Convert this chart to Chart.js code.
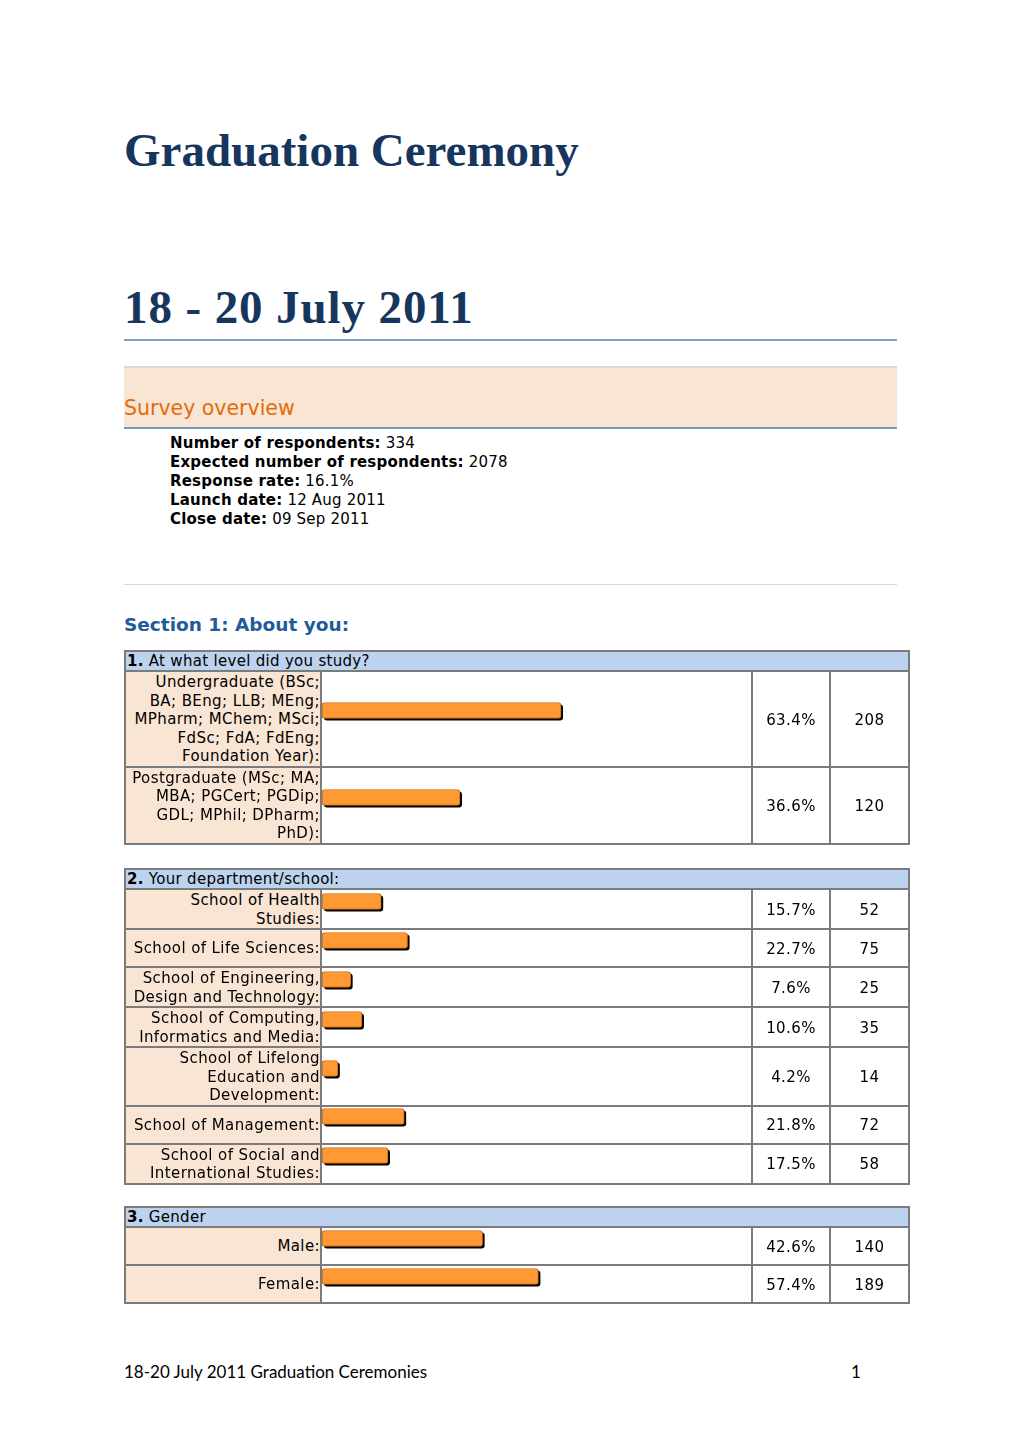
<!DOCTYPE html>
<html>
<head>
<meta charset="utf-8">
<script src="https://cdn.jsdelivr.net/npm/chart.js@4/dist/chart.umd.min.js"></script>
<style>
  body { margin: 0; background: #fff; width: 1020px; height: 1443px; position: relative; font-family: "DejaVu Sans", Verdana, sans-serif; color: #000; }
  .abs { position: absolute; }
  .title { font-family: "Liberation Serif", serif; font-weight: bold; font-size: 47px; line-height: 47px; color: #17365D; white-space: nowrap; }
  .rule { height: 2px; background: #7BA0D0; }
  .overview { left: 124px; top: 366px; width: 773px; height: 59px; background: #F9E5D4; border-top: 2px solid #D9D9D9; border-bottom: 2px solid #7098CD; }
  .overview span { position: absolute; left: 0; top: 28px; font-size: 20.5px; color: #E36C0A; }
  .facts { left: 170px; top: 434px; font-size: 15px; letter-spacing: 0.2px; line-height: 19px; }
  .section { font-weight: bold; font-size: 18.5px; color: #1F5C99; }
  table.q { position: absolute; left: 124px; width: 784px; border-collapse: collapse; table-layout: fixed; font-size: 15px; letter-spacing: 0.4px; }
  table.q td { border: 2px solid #7B7B7B; padding: 0; line-height: 18.5px; }
  table.q td.head { background: #BCD2EE; line-height: 17px; height: 17px; padding: 1px 0 0 1px; letter-spacing: 0.3px; }
  table.q td.lbl { background: #F9E5D4; text-align: right; white-space: pre-line; vertical-align: middle; height: 35px; padding-top: 1px; }
  table.q td.bar { vertical-align: middle; background: #fff; }
  table.q td.num { text-align: center; vertical-align: middle; padding-top: 2px; }
  .barbox { height: 35px; }
  .barbox canvas { display: block; }
  .footer { font-family: Lato, "Open Sans", sans-serif; font-size: 17px; }
</style>
</head>
<body>
<div class="abs title" style="left:124px; top:127px;">Graduation Ceremony</div>
<div class="abs title" style="left:124px; top:284px; letter-spacing: 0.9px;">18 - 20 July 2011</div>
<div class="abs rule" style="left:124px; top:339px; width:773px;"></div>

<div class="abs overview"><span>Survey overview</span></div>
<div class="abs facts">
  <b>Number of respondents:</b> 334<br>
  <b>Expected number of respondents:</b> 2078<br>
  <b>Response rate:</b> 16.1%<br>
  <b>Launch date:</b> 12 Aug 2011<br>
  <b>Close date:</b> 09 Sep 2011
</div>
<div class="abs" style="left:124px; top:584px; width:773px; height:1px; background:#D9D9D9;"></div>
<div class="abs section" style="left:124px; top:614px;">Section 1: About you:</div>

<div id="tables"></div>

<div class="abs footer" style="left:124px; top:1361px;">18-20 July 2011 Graduation Ceremonies</div>
<div class="abs footer" style="left:851px; top:1361px;">1</div>

<script>
// question 1
const q1Title = "At what level did you study?";
const q1Labels = [
  "Undergraduate (BSc;\nBA; BEng; LLB; MEng;\nMPharm; MChem; MSci;\nFdSc; FdA; FdEng;\nFoundation Year):",
  "Postgraduate (MSc; MA;\nMBA; PGCert; PGDip;\nGDL; MPhil; DPharm;\nPhD):"
];
const q1Percent = [63.4, 36.6];
const q1Count = [208, 120];

// question 2
const q2Title = "Your department/school:";
const q2Labels = [
  "School of Health\nStudies:",
  "School of Life Sciences:",
  "School of Engineering,\nDesign and Technology:",
  "School of Computing,\nInformatics and Media:",
  "School of Lifelong\nEducation and\nDevelopment:",
  "School of Management:",
  "School of Social and\nInternational Studies:"
];
const q2Percent = [15.7, 22.7, 7.6, 10.6, 4.2, 21.8, 17.5];
const q2Count = [52, 75, 25, 35, 14, 72, 58];

// question 3
const q3Title = "Gender";
const q3Labels = ["Male:", "Female:"];
const q3Percent = [42.6, 57.4];
const q3Count = [140, 189];

const questions = [
  { no: 1, title: q1Title, labels: q1Labels, pct: q1Percent, count: q1Count, top: 650 },
  { no: 2, title: q2Title, labels: q2Labels, pct: q2Percent, count: q2Count, top: 868 },
  { no: 3, title: q3Title, labels: q3Labels, pct: q3Percent, count: q3Count, top: 1206 }
];

// black drop shadow behind each bar (bar element clips itself, so draw it first)
const barShadow = {
  id: "barShadow",
  beforeDatasetsDraw(chart) {
    const ctx = chart.ctx;
    ctx.save();
    ctx.fillStyle = "#000";
    chart.getDatasetMeta(0).data.forEach(el => {
      const p = el.getProps(["x", "y", "base", "height"], true);
      const left = Math.min(p.base, p.x) + 2;
      const w = Math.abs(p.x - p.base);
      const top = p.y - p.height / 2 + 2;
      ctx.beginPath();
      ctx.roundRect(left, top, w, p.height, 3);
      ctx.fill();
    });
    ctx.restore();
  }
};

const host = document.getElementById("tables");

questions.forEach(q => {
  const table = document.createElement("table");
  table.className = "q";
  table.style.top = q.top + "px";
  let html = '<colgroup><col style="width:196px"><col style="width:431px"><col style="width:78px"><col style="width:79px"></colgroup>';
  html += '<tr><td class="head" colspan="4"><b>' + q.no + '.</b> ' + q.title + '</td></tr>';
  q.labels.forEach((label, i) => {
    html += '<tr><td class="lbl"></td><td class="bar"><div class="barbox"><canvas id="c' + q.no + '_' + i + '" width="429" height="20"></canvas></div></td>' +
      '<td class="num">' + q.pct[i].toFixed(1) + '%</td><td class="num">' + q.count[i] + '</td></tr>';
  });
  table.innerHTML = html;
  host.appendChild(table);
  table.querySelectorAll("td.lbl").forEach((td, i) => { td.textContent = q.labels[i]; });

  q.labels.forEach((label, i) => {
    const ctx = document.getElementById("c" + q.no + "_" + i).getContext("2d");
    new Chart(ctx, {
      type: "bar",
      data: {
        labels: [label],
        datasets: [{
          data: [q.pct[i]],
          backgroundColor: "#FF9933",
          borderColor: "#D06A0C",
          borderWidth: 1,
          borderRadius: 3,
          borderSkipped: false,
          barThickness: 16
        }]
      },
      options: {
        indexAxis: "y",
        responsive: false,
        animation: false,
        events: [],
        layout: { padding: { left: 0, right: 52, top: 0, bottom: 1 } },
        plugins: { legend: { display: false }, tooltip: { enabled: false } },
        scales: {
          x: { min: 0, max: 100, display: false },
          y: { display: false }
        }
      },
      plugins: [barShadow]
    });
  });
});
</script>
</body>
</html>
